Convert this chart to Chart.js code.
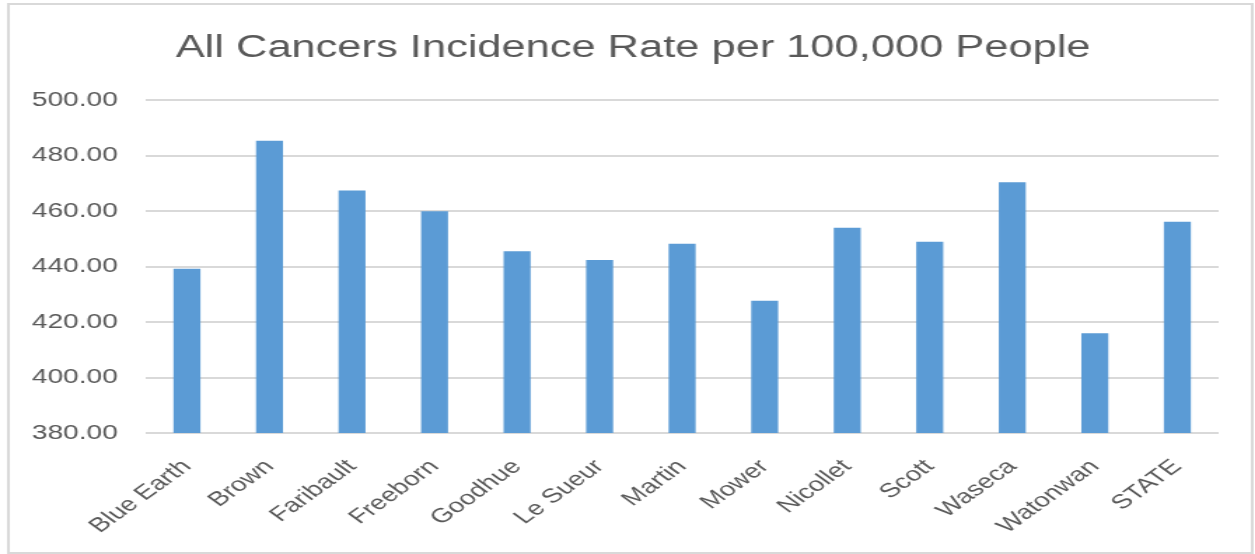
<!DOCTYPE html>
<html>
<head>
<meta charset="utf-8">
<script src="https://cdn.jsdelivr.net/npm/chart.js@4/dist/chart.umd.min.js"></script>
<style>
  html, body { margin: 0; padding: 0; background: #fff; overflow: hidden; }
  /* the reference picture is stretched sideways, so draw narrow and stretch */
  #cancerChart { display: block; transform-origin: 0 0; transform: scaleX(1.4007); }
</style>
</head>
<body>
<canvas id="cancerChart" width="896" height="554"></canvas>
<script>
const counties = ['Blue Earth', 'Brown', 'Faribault', 'Freeborn', 'Goodhue', 'Le Sueur',
  'Martin', 'Mower', 'Nicollet', 'Scott', 'Waseca', 'Watonwan', 'STATE']
const incidenceRates = [439.2, 485.4, 467.4, 460.0, 445.5, 442.4, 448.2, 427.7, 454.0, 449.0, 470.4, 416.0, 456.2]
const yMin = 380
const yMax = 500
const yStep = 20

const textColor = '#595959'
const gridColor = '#d9d9d9'
const fontFamily = "'Liberation Sans', Arial, sans-serif"

// light grey frame round the whole chart, and nudge the title a bit right
const frame = {
  id: 'frame',
  afterLayout(chart) {
    if (chart.titleBlock) chart.titleBlock.left = 34
  },
  beforeDraw(chart) {
    const ctx = chart.ctx
    ctx.save()
    ctx.strokeStyle = gridColor
    ctx.lineWidth = 2
    ctx.strokeRect(6, 4, chart.width - 8, chart.height - 5)
    ctx.restore()
  }
}

const data = {
  labels: counties,
  datasets: [
    {
      label: 'All Cancers Incidence Rate per 100,000 People',
      data: incidenceRates,
      backgroundColor: '#5b9bd5',
      borderWidth: 0,
      categoryPercentage: 1,
      barPercentage: 0.327,
    },
  ],
}

const options = {
  responsive: false,
  devicePixelRatio: 1,
  animation: false,
  layout: { padding: { left: 0, right: 26, top: 0, bottom: 6 } },
  plugins: {
    legend: { display: false },
    tooltip: { enabled: false },
    title: {
      display: true,
      text: 'All Cancers Incidence Rate per 100,000 People',
      color: textColor,
      font: { family: fontFamily, size: 31, weight: 'normal', lineHeight: 1.2 },
      padding: { top: 30, bottom: 33 },
    },
  },
  scales: {
    x: {
      grid: { display: false },
      border: { display: false },
      ticks: {
        color: textColor,
        font: { family: fontFamily, size: 20 },
        minRotation: 45,
        maxRotation: 45,
        autoSkip: false,
        padding: 14,
      },
      afterFit(scale) { scale.height = 554 - 433 - 6 },
    },
    y: {
      min: yMin,
      max: yMax,
      border: { display: false },
      grid: { color: gridColor, lineWidth: 2, drawTicks: false },
      ticks: {
        stepSize: yStep,
        color: textColor,
        font: { family: fontFamily, size: 20 },
        padding: 20,
        callback: value => value.toFixed(2),
      },
      afterFit(scale) { scale.width = 104 },
    },
  },
}

new Chart(document.getElementById('cancerChart'), {
  type: 'bar',
  data: data,
  options: options,
  plugins: [frame],
})
</script>
</body>
</html>
